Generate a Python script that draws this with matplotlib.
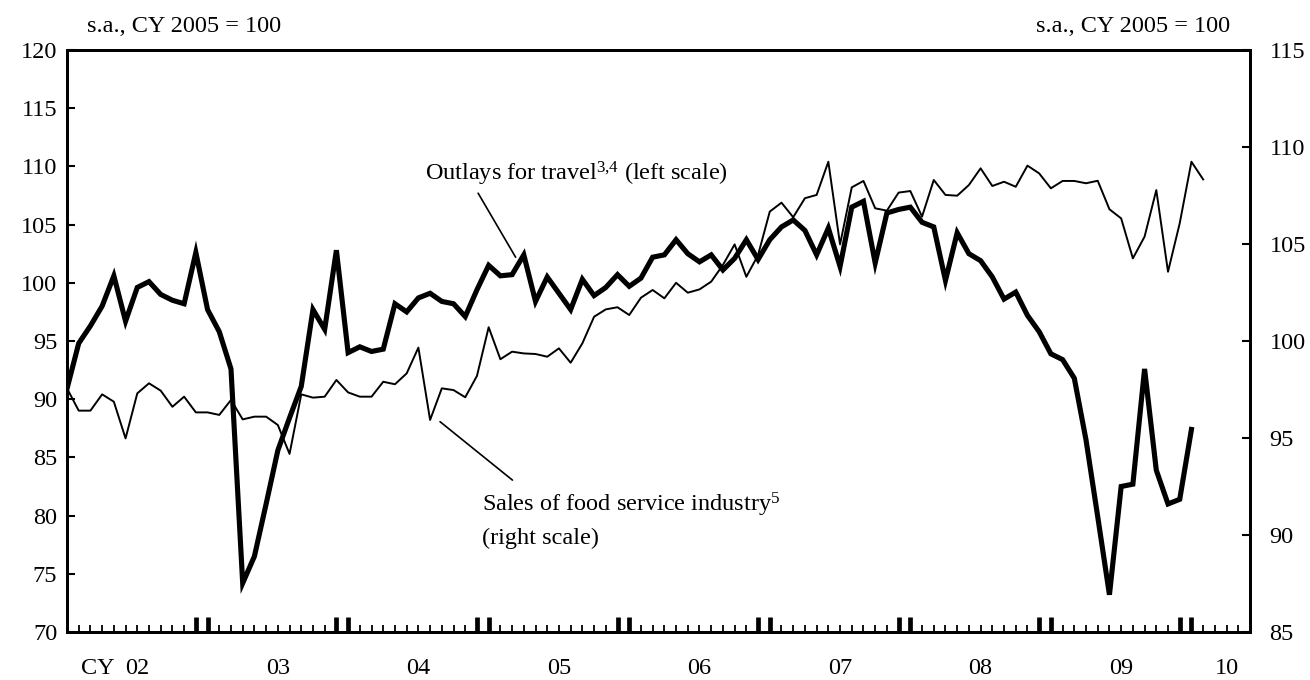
import numpy as np
import matplotlib
matplotlib.use('Agg')
import matplotlib.pyplot as plt
import matplotlib.transforms as mtransforms

plt.rcParams['font.family'] = ['Liberation Serif', 'DejaVu Serif']
plt.rcParams['mathtext.fontset'] = 'custom'
plt.rcParams['mathtext.rm'] = 'Liberation Serif'
plt.rcParams['mathtext.it'] = 'Liberation Serif:italic'

FS = 17.5

# monthly data, Jan 2002 onwards
travel = [90.9, 94.8, 96.3, 98.0, 100.6, 96.7, 99.6, 100.1, 99.0, 98.5, 98.2, 102.6,
          97.7, 95.8, 92.6, 74.2, 76.5, 81.0, 85.6, 88.4, 91.1, 97.7, 96.0, 102.8,
          94.0, 94.5, 94.1, 94.3, 98.2, 97.5, 98.7, 99.1, 98.4, 98.2, 97.1, 99.4,
          101.5, 100.6, 100.7, 102.4, 98.4, 100.5, 99.1, 97.7, 100.3, 98.9, 99.6, 100.7,
          99.7, 100.4, 102.2, 102.4, 103.7, 102.5, 101.8, 102.4, 101.1, 102.1, 103.7, 102.0,
          103.7, 104.8, 105.4, 104.5, 102.4, 104.7, 101.4, 106.5, 107.0, 101.7, 106.0, 106.3,
          106.5, 105.2, 104.8, 100.2, 104.3, 102.5, 101.9, 100.5, 98.6, 99.2, 97.2, 95.8,
          93.9, 93.4, 91.8, 86.5, 79.9, 73.2, 82.5, 82.7, 92.6, 83.9, 81.0, 81.4,
          87.4]
food = [97.56, 96.41, 96.41, 97.25, 96.87, 94.98, 97.30, 97.82, 97.44, 96.61, 97.13, 96.32,
        96.32, 96.19, 96.96, 95.96, 96.10, 96.10, 95.67, 94.18, 97.25, 97.08, 97.13, 97.99,
        97.35, 97.13, 97.13, 97.90, 97.77, 98.33, 99.66, 95.93, 97.56, 97.47, 97.10, 98.20,
        100.71, 99.06, 99.45, 99.36, 99.33, 99.19, 99.62, 98.88, 99.88, 101.25, 101.63, 101.74,
        101.34, 102.23, 102.63, 102.20, 103.00, 102.49, 102.66, 103.06, 103.92, 104.98, 103.31, 104.43,
        106.67, 107.13, 106.38, 107.36, 107.53, 109.24, 104.98, 107.92, 108.25, 106.84, 106.72, 107.65,
        107.73, 106.41, 108.30, 107.53, 107.49, 108.04, 108.90, 107.99, 108.21, 107.95, 109.04, 108.64,
        107.87, 108.25, 108.25, 108.13, 108.26, 106.79, 106.32, 104.26, 105.38, 107.78, 103.57, 106.07,
        109.24, 108.33]
year_labels = ['02', '03', '04', '05', '06', '07', '08', '09', '10']
n_months = 101  # Jan 2002 .. May 2010

fig = plt.figure(figsize=(13.1, 6.8), dpi=100)
ax = fig.add_axes([67 / 1310, 1 - 632 / 680, (1250 - 67) / 1310, (632 - 50) / 680])
ax2 = ax.twinx()

ax.plot(np.arange(len(travel)), travel, color='black', lw=3.7, solid_joinstyle='miter', zorder=3)
ax2.plot(np.arange(len(food)), food, color='black', lw=1.4, zorder=3)

ax.set_xlim(0, n_months)
ax.set_ylim(70, 120)
ax2.set_ylim(85, 115)
ax.set_yticks(np.arange(70, 121, 5))
ax2.set_yticks(np.arange(85, 116, 5))

for a in (ax, ax2):
    for s in a.spines.values():
        s.set_linewidth(2.0)

ax.tick_params(axis='y', direction='in', length=6, width=1.5, labelsize=FS, pad=7)
ax2.tick_params(axis='y', direction='in', length=6, width=1.5, labelsize=FS, pad=14)

# x axis: small monthly ticks, tall double ticks around each new year
tall = [m for k in range(1, 9) for m in (12 * k - 1, 12 * k)]
small = [m for m in range(1, n_months) if m not in tall]
ax.set_xticks(tall)
ax.set_xticklabels([])
ax.set_xticks(small, minor=True)
ax.tick_params(axis='x', which='major', direction='in', length=11, width=3.4)
ax.tick_params(axis='x', which='minor', direction='in', length=5, width=1.3)

trans = mtransforms.blended_transform_factory(ax.transData, ax.transAxes)
for k, lab in enumerate(year_labels):
    xpos = 12 * k + 6 if k < 8 else (96 + n_months) / 2 + 0.5
    ax.text(xpos, -0.063, lab, transform=trans, ha='center', va='center', fontsize=FS)
ax.text(4.1, -0.063, 'CY', transform=trans, ha='right', va='center', fontsize=FS)

# unit labels
fig.text(87 / 1310, 1 - 26 / 680, 's.a., CY 2005 = 100', ha='left', va='center', fontsize=FS)
fig.text(1230 / 1310, 1 - 26 / 680, 's.a., CY 2005 = 100', ha='right', va='center', fontsize=FS)

# annotations
ax.text(30.55, 109.35, r'Outlays for travel$^{\mathrm{3{,}4}}$ (left scale)', ha='left', va='center', fontsize=FS)
ax.annotate('', xy=(38.3, 102.2), xytext=(35.1, 107.7),
            arrowprops=dict(arrowstyle='-', lw=1.2, color='black', shrinkA=0, shrinkB=0))
ax2.text(35.45, 91.55, r'Sales of food service industry$^{\mathrm{5}}$', ha='left', va='center', fontsize=FS)
ax2.text(35.45, 89.85, '(right scale)', ha='left', va='center', fontsize=FS)
ax2.annotate('', xy=(31.85, 95.84), xytext=(38.03, 92.83),
             arrowprops=dict(arrowstyle='-', lw=1.2, color='black', shrinkA=0, shrinkB=0))

fig.savefig('out.png', dpi=100)
